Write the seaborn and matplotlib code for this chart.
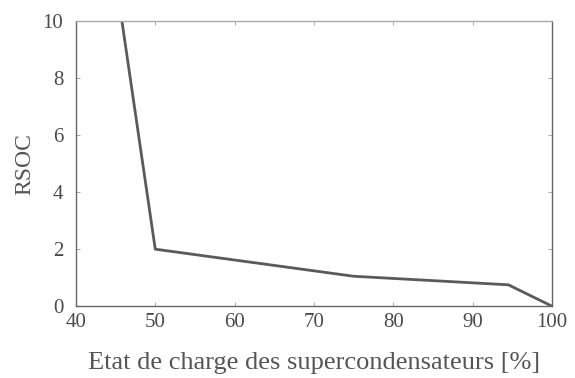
import matplotlib
matplotlib.use("Agg")
import matplotlib.pyplot as plt
import seaborn as sns
import pandas as pd

# State of charge of the supercapacitors [%] and the corresponding RSOC
soc = [45.8, 50, 75, 94.5, 100]
rsoc = [10, 2.0, 1.05, 0.75, 0]
xticks = [40, 50, 60, 70, 80, 90, 100]
yticks = [0, 2, 4, 6, 8, 10]

sns.set_theme(style="white")
plt.rcParams["font.family"] = ["Liberation Serif", "DejaVu Serif"]

df = pd.DataFrame({"soc": soc, "rsoc": rsoc})

fig = plt.figure(figsize=(5.75, 3.78), dpi=100)
ax = fig.add_axes([0.132, 0.19, 0.828, 0.754])
sns.lineplot(data=df, x="soc", y="rsoc", ax=ax, color="#5a5a5a", linewidth=2.0)

ax.set_xlim(40, 100)
ax.set_ylim(0, 10)
ax.set_xticks(xticks)
ax.set_yticks(yticks)
ax.tick_params(direction="in", length=3, width=0.6, colors="#999999",
               labelcolor="#4a4a4a", labelsize=15, top=True, right=True,
               bottom=True, left=True)
ax.tick_params(axis="x", pad=5)
ax.tick_params(axis="y", pad=9)
for side, s in ax.spines.items():
    s.set_color("#aaaaaa" if side == "top" else "#666666")
    s.set_linewidth(1.0)
ax.set_xlabel("Etat de charge des supercondensateurs [%]", fontsize=19,
              color="#555555", labelpad=14)
ax.set_ylabel("RSOC", fontsize=17, color="#555555", labelpad=5)

fig.savefig("out.png", dpi=100)
